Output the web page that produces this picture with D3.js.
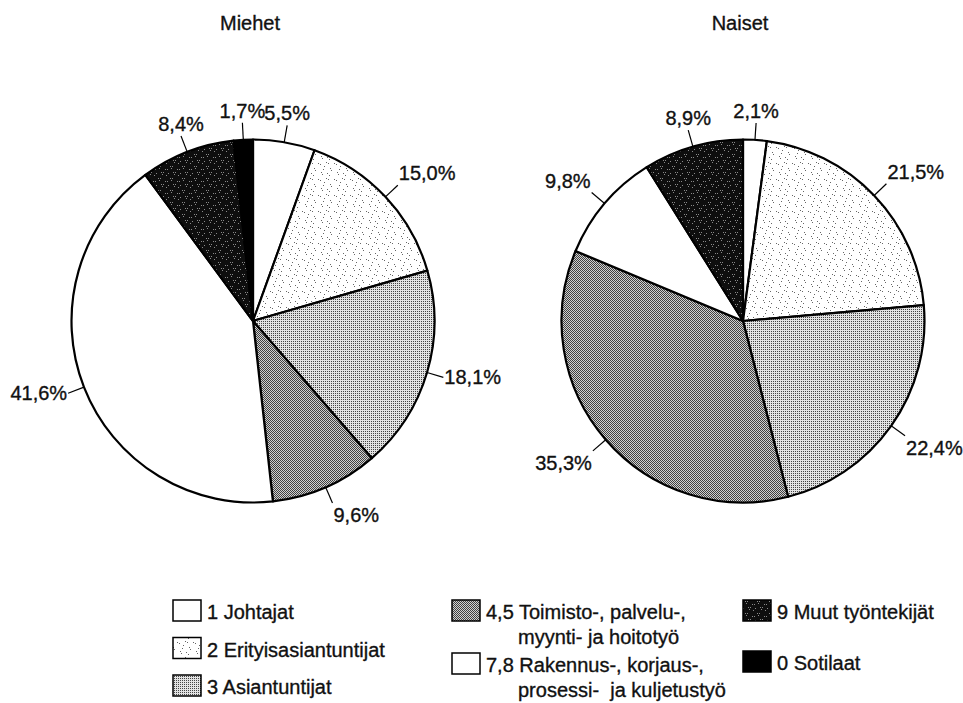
<!DOCTYPE html>
<html>
<head>
<meta charset="utf-8">
<script src="https://cdn.jsdelivr.net/npm/d3@7"></script>
<style>
  html, body { margin: 0; padding: 0; background: #fff; }
  svg { display: block; }
  text { font-family: "Liberation Sans", Arial, Helvetica, sans-serif; fill: #111; stroke: #111; stroke-width: 0.35px; }
</style>
</head>
<body>
<svg id="chart" width="963" height="703"></svg>
<script>
// ---- data ----
const categories = [
  "1 Johtajat",
  "2 Erityisasiantuntijat",
  "3 Asiantuntijat",
  "4,5 Toimisto-, palvelu-, myynti- ja hoitotyö",
  "7,8 Rakennus-, korjaus-, prosessi-  ja kuljetustyö",
  "9 Muut työntekijät",
  "0 Sotilaat"
];
const chartTitles = ["Miehet", "Naiset"];
const miehetValues = [5.5, 15.0, 18.1, 9.6, 41.6, 8.4, 1.7];
const naisetValues = [2.1, 21.5, 22.4, 35.3, 9.8, 8.9, 0.0];
const legendLines = [
  ["1 Johtajat"],
  ["2 Erityisasiantuntijat"],
  ["3 Asiantuntijat"],
  ["4,5 Toimisto-, palvelu-,", "myynti- ja hoitotyö"],
  ["7,8 Rakennus-, korjaus-,", "prosessi-  ja kuljetustyö"],
  ["9 Muut työntekijät"],
  ["0 Sotilaat"]
];

// ---- setup ----
const svg = d3.select("#chart");
const defs = svg.append("defs");

function pixelPattern(id, size, bg, fg, pts) {
  const p = defs.append("pattern").attr("id", id)
    .attr("patternUnits", "userSpaceOnUse")
    .attr("width", size).attr("height", size);
  p.append("rect").attr("width", size).attr("height", size).attr("fill", bg);
  p.selectAll("rect.px").data(pts).enter().append("rect")
    .attr("class", "px")
    .attr("x", d => d[0]).attr("y", d => d[1])
    .attr("width", 1).attr("height", 1)
    .attr("fill", fg).attr("shape-rendering", "crispEdges");
}
// sparse stipple on white
pixelPattern("p2", 16, "#fff", "#666",
  [[1,2],[3,3],[9,1],[11,2],[6,8],[13,7],[14,9],[4,11],[5,13],[10,12],[12,14],[7,5]]);
// light gray halftone
pixelPattern("p3", 2, "#e2e2e2", "#444", [[0,0]]);
// mid gray halftone
pixelPattern("p45", 2, "#d0d0d0", "#404040", [[0,0],[1,1]]);
// near-black with gray speckles
pixelPattern("p9", 12, "#0e0e0e", "#8a8a8a",
  [[1,1],[3,1],[2,3],[8,4],[10,4],[4,7],[6,7],[5,9],[11,8],[9,10]]);

const fills = ["#ffffff", "url(#p2)", "url(#p3)", "url(#p45)", "#ffffff", "url(#p9)", "#000000"];

const R = 181.5;
const centers = [[253, 321], [743, 321]];
const pie = d3.pie().sort(null).value(d => d.v);
const arc = d3.arc().innerRadius(0).outerRadius(R);
const fmt = v => v.toFixed(1).replace(".", ",") + "%";

[miehetValues, naisetValues].forEach((vals, ci) => {
  const [cx, cy] = centers[ci];
  const g = svg.append("g").attr("transform", `translate(${cx},${cy})`);
  const data = vals.map((v, i) => ({ v, i }));
  const arcs = pie(data);

  g.selectAll("path.slice").data(arcs.filter(a => a.data.v > 0)).enter().append("path")
    .attr("class", "slice")
    .attr("d", arc)
    .attr("fill", d => fills[d.data.i])
    .attr("stroke", "#000").attr("stroke-width", 2.2)
    .attr("stroke-linejoin", "round");

  const lab = g.selectAll("g.lab").data(arcs.filter(a => a.data.v > 0)).enter().append("g");
  lab.each(function (d) {
    const a = (d.startAngle + d.endAngle) / 2;
    const s = Math.sin(a), c = -Math.cos(a);
    const x0 = s * R, y0 = c * R;
    const x1 = s * (R + 17), y1 = c * (R + 17);
    const sel = d3.select(this);
    sel.append("line").attr("x1", x0).attr("y1", y0).attr("x2", x1).attr("y2", y1)
      .attr("stroke", "#000").attr("stroke-width", 1.2);
    const cosUp = Math.cos(a);
    let anchor = "middle", tx = x1;
    if (s > 0.38) { anchor = "start"; tx = x1 + 1; }
    else if (s < -0.38) { anchor = "end"; tx = x1 - 1; }
    let ty;
    if (cosUp >= 0.2) ty = y1 - 5;
    else if (cosUp > -0.5) ty = y1 + 7;
    else ty = y1 + 19;
    sel.append("text").attr("x", tx).attr("y", ty)
      .attr("text-anchor", anchor)
      .style("font-size", "20px")
      .text(fmt(d.data.v));
  });

  svg.append("text").attr("x", cx - 3).attr("y", 30)
    .attr("text-anchor", "middle").style("font-size", "20px")
    .text(chartTitles[ci]);
});

// ---- legend ----
const colX = [173, 452, 743];
const colRowY = [[600, 637.5, 675], [600, 653], [600, 651]];
const colOf = [0, 0, 0, 1, 1, 2, 2];
const rowOf = [0, 1, 2, 0, 1, 0, 1];
const lg = svg.append("g");
categories.forEach((cat, i) => {
  const x = colX[colOf[i]], y = colRowY[colOf[i]][rowOf[i]];
  lg.append("rect").attr("x", x).attr("y", y).attr("width", 28).attr("height", 21)
    .attr("fill", fills[i]).attr("stroke", "#000").attr("stroke-width", 1.5);
  legendLines[i].forEach((line, li) => {
    lg.append("text")
      .attr("x", li === 0 ? x + 34 : x + 66)
      .attr("y", y + 19 + li * 25)
      .style("font-size", "20px")
      .style("white-space", "pre")
      .text(line);
  });
});
</script>
</body>
</html>
